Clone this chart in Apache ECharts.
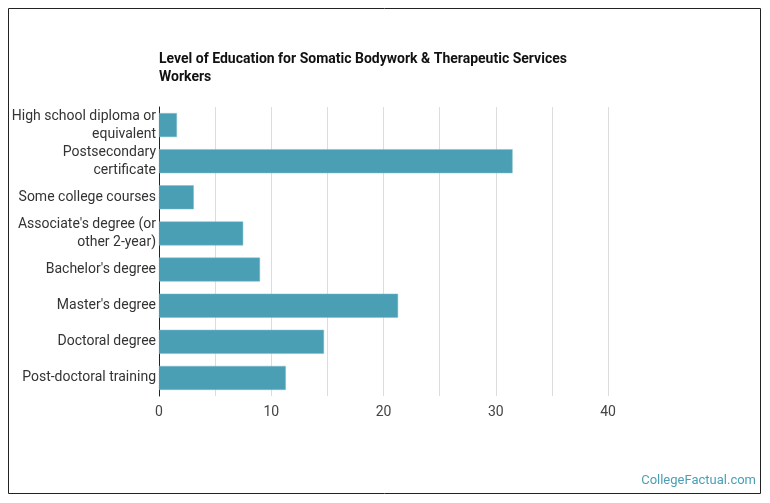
<!DOCTYPE html>
<html>
<head>
<meta charset="utf-8">
<script src="https://cdn.jsdelivr.net/npm/echarts@6/dist/echarts.min.js"></script>
<style>
  html, body { margin: 0; padding: 0; background: #fff; }
  #chart { width: 770px; height: 503px; }
</style>
</head>
<body>
<div id="chart"></div>
<script>
// levels of education, top to bottom
const categories = [
  'High school diploma or\nequivalent',
  'Postsecondary\ncertificate',
  'Some college courses',
  'Associate\'s degree (or\nother 2-year)',
  'Bachelor\'s degree',
  'Master\'s degree',
  'Doctoral degree',
  'Post-doctoral training'
];
// percent of workers
const values = [1.6, 31.5, 3.1, 7.5, 9.0, 21.3, 14.7, 11.3];
const xTicks = [0, 10, 20, 30, 40];

const chart = echarts.init(document.getElementById('chart'), null, { renderer: 'canvas' });

chart.setOption({
  animation: false,
  textStyle: { fontFamily: 'Roboto' },
  title: {
    text: 'Level of Education for Somatic Bodywork & Therapeutic Services\nWorkers',
    left: 154,
    top: 45,
    textStyle: {
      fontFamily: 'Roboto',
      fontSize: 14,
      fontWeight: 'bold',
      color: '#111',
      lineHeight: 18
    }
  },
  graphic: [
    {
      type: 'rect',
      shape: { x: 8.5, y: 8.5, width: 752, height: 485 },
      style: { fill: 'none', stroke: '#222', lineWidth: 1 },
      silent: true
    },
    {
      type: 'text',
      right: 14,
      top: 474,
      style: { text: 'CollegeFactual.com', fontFamily: 'Roboto', fontSize: 13, fill: '#4a9fb5' }
    }
  ],
  grid: { left: 159, top: 107, right: 162, bottom: 107, containLabel: false },
  xAxis: {
    type: 'value',
    min: 0,
    max: 40,
    interval: 5,
    axisLine: { show: false },
    axisTick: { show: false },
    splitLine: { lineStyle: { color: '#dcdcdc', width: 1 } },
    axisLabel: {
      fontSize: 14,
      color: '#444',
      margin: 9,
      formatter: v => (xTicks.indexOf(v) >= 0 ? String(v) : '')
    }
  },
  yAxis: {
    type: 'category',
    inverse: true,
    data: categories,
    axisLine: { lineStyle: { color: '#222', width: 1 } },
    axisTick: { show: false },
    axisLabel: { fontSize: 14, color: '#333', margin: 3, lineHeight: 18 }
  },
  series: [{
    type: 'bar',
    data: values,
    barWidth: 24,
    itemStyle: { color: '#4a9fb5', borderColor: '#7fbccb', borderWidth: 0.5 }
  }]
});
</script>
</body>
</html>
